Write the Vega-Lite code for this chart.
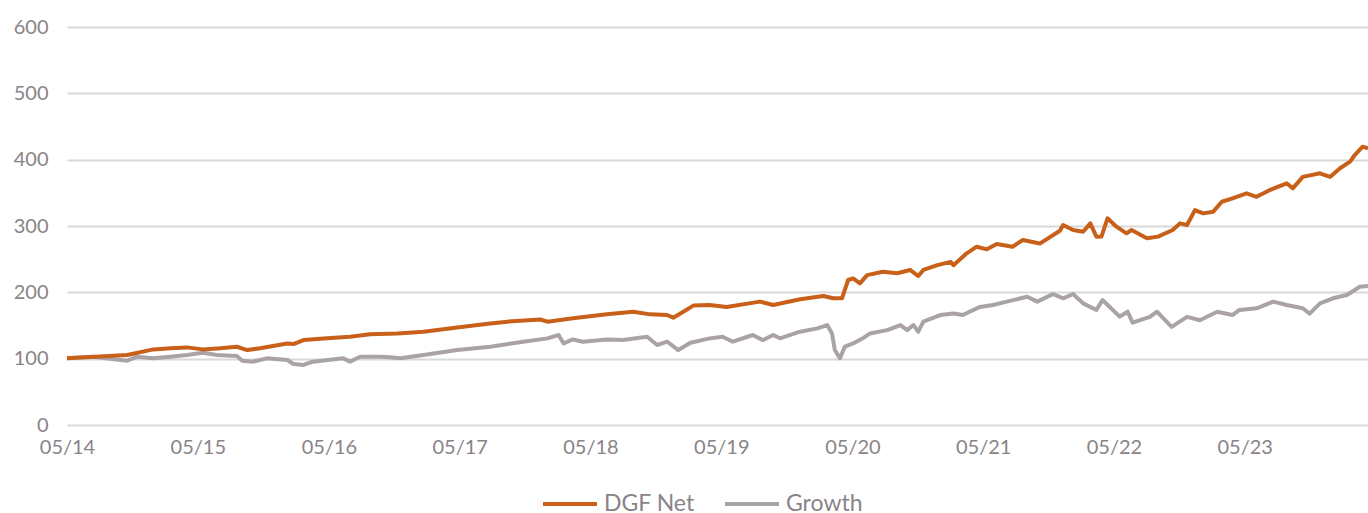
{
  "$schema": "https://vega.github.io/schema/vega-lite/v6.json",
  "width": 1301,
  "height": 398,
  "autosize": {"type": "none"},
  "padding": {"left": 67, "top": 27, "right": 0, "bottom": 88},
  "background": "white",
  "config": {
    "view": {"stroke": null},
    "font": "Lato",
    "axis": {"labelFont": "Lato", "labelColor": "#898388", "labelFontSize": 20, "ticks": false, "domain": false, "title": null},
    "legend": {"labelFont": "Lato", "labelColor": "#898388", "labelFontSize": 23}
  },
  "datasets": {
    "dgf": [
      {"date": "2014-05-01", "v": 100.5},
      {"date": "2014-10-16", "v": 105.5},
      {"date": "2014-12-28", "v": 114},
      {"date": "2015-02-14", "v": 115.6},
      {"date": "2015-04-01", "v": 117},
      {"date": "2015-05-15", "v": 114},
      {"date": "2015-07-02", "v": 115.6},
      {"date": "2015-08-18", "v": 118},
      {"date": "2015-09-16", "v": 113},
      {"date": "2015-10-22", "v": 115.6},
      {"date": "2016-01-06", "v": 123},
      {"date": "2016-01-23", "v": 122},
      {"date": "2016-02-20", "v": 128},
      {"date": "2016-04-26", "v": 130.7},
      {"date": "2016-06-29", "v": 133},
      {"date": "2016-08-24", "v": 136.7},
      {"date": "2016-11-08", "v": 138},
      {"date": "2017-01-20", "v": 140.7},
      {"date": "2017-04-24", "v": 147},
      {"date": "2017-07-25", "v": 153},
      {"date": "2017-09-11", "v": 155.8},
      {"date": "2017-12-12", "v": 159},
      {"date": "2018-01-01", "v": 155.8},
      {"date": "2018-03-13", "v": 160.8},
      {"date": "2018-06-16", "v": 166.8},
      {"date": "2018-08-28", "v": 170.8},
      {"date": "2018-10-15", "v": 166.8},
      {"date": "2018-12-01", "v": 165.8},
      {"date": "2018-12-18", "v": 161.8},
      {"date": "2019-01-15", "v": 170.8},
      {"date": "2019-02-12", "v": 180},
      {"date": "2019-03-30", "v": 181},
      {"date": "2019-05-16", "v": 178},
      {"date": "2019-08-17", "v": 186},
      {"date": "2019-09-23", "v": 181},
      {"date": "2019-12-07", "v": 189.5},
      {"date": "2020-02-10", "v": 194.5},
      {"date": "2020-03-08", "v": 191},
      {"date": "2020-04-02", "v": 191},
      {"date": "2020-04-19", "v": 218.6},
      {"date": "2020-05-03", "v": 221},
      {"date": "2020-05-22", "v": 213.6},
      {"date": "2020-06-11", "v": 226},
      {"date": "2020-07-25", "v": 231},
      {"date": "2020-09-03", "v": 228.7},
      {"date": "2020-10-09", "v": 233.7},
      {"date": "2020-11-01", "v": 224.6},
      {"date": "2020-11-15", "v": 233.7},
      {"date": "2020-12-24", "v": 241},
      {"date": "2021-01-30", "v": 246},
      {"date": "2021-02-07", "v": 241},
      {"date": "2021-03-16", "v": 258.8},
      {"date": "2021-04-13", "v": 268.8},
      {"date": "2021-05-11", "v": 264.8},
      {"date": "2021-06-08", "v": 272.8},
      {"date": "2021-07-22", "v": 268.8},
      {"date": "2021-08-20", "v": 278.9},
      {"date": "2021-10-06", "v": 273.5},
      {"date": "2021-12-01", "v": 292.9},
      {"date": "2021-12-10", "v": 301.5},
      {"date": "2022-01-07", "v": 294},
      {"date": "2022-02-04", "v": 291.4},
      {"date": "2022-02-24", "v": 304},
      {"date": "2022-03-13", "v": 283.9},
      {"date": "2022-03-27", "v": 284},
      {"date": "2022-04-13", "v": 311.6},
      {"date": "2022-05-08", "v": 299},
      {"date": "2022-06-05", "v": 289},
      {"date": "2022-06-19", "v": 294},
      {"date": "2022-08-01", "v": 281.4},
      {"date": "2022-09-01", "v": 284},
      {"date": "2022-10-12", "v": 294},
      {"date": "2022-11-01", "v": 304},
      {"date": "2022-11-21", "v": 301.5},
      {"date": "2022-12-13", "v": 324},
      {"date": "2023-01-05", "v": 319},
      {"date": "2023-02-02", "v": 321.6},
      {"date": "2023-02-26", "v": 336.6},
      {"date": "2023-03-28", "v": 341.7},
      {"date": "2023-05-06", "v": 349.3},
      {"date": "2023-06-03", "v": 344},
      {"date": "2023-07-09", "v": 354},
      {"date": "2023-08-26", "v": 364.4},
      {"date": "2023-09-12", "v": 356.8},
      {"date": "2023-10-10", "v": 374},
      {"date": "2023-11-27", "v": 379.4},
      {"date": "2023-12-25", "v": 374},
      {"date": "2024-01-22", "v": 387},
      {"date": "2024-02-19", "v": 397},
      {"date": "2024-03-03", "v": 407},
      {"date": "2024-03-25", "v": 419.6},
      {"date": "2024-04-09", "v": 417}
    ],
    "growth": [
      {"date": "2014-05-01", "v": 100.5},
      {"date": "2014-07-12", "v": 103},
      {"date": "2014-10-16", "v": 97},
      {"date": "2014-11-13", "v": 103},
      {"date": "2014-12-28", "v": 100.5},
      {"date": "2015-02-14", "v": 103},
      {"date": "2015-04-01", "v": 105.5},
      {"date": "2015-05-15", "v": 109},
      {"date": "2015-06-23", "v": 105.5},
      {"date": "2015-08-18", "v": 104},
      {"date": "2015-09-02", "v": 97},
      {"date": "2015-10-02", "v": 95.5},
      {"date": "2015-11-10", "v": 100.5},
      {"date": "2016-01-06", "v": 98},
      {"date": "2016-01-23", "v": 92},
      {"date": "2016-02-20", "v": 90.5},
      {"date": "2016-03-17", "v": 95.5},
      {"date": "2016-06-10", "v": 100.5},
      {"date": "2016-06-29", "v": 95.5},
      {"date": "2016-07-27", "v": 103},
      {"date": "2016-09-21", "v": 103},
      {"date": "2016-10-19", "v": 102},
      {"date": "2016-11-16", "v": 100.5},
      {"date": "2017-01-20", "v": 105.5},
      {"date": "2017-04-24", "v": 113},
      {"date": "2017-07-25", "v": 118},
      {"date": "2017-10-25", "v": 125.6},
      {"date": "2018-01-01", "v": 130.6},
      {"date": "2018-02-01", "v": 135.7},
      {"date": "2018-02-15", "v": 123},
      {"date": "2018-03-13", "v": 129},
      {"date": "2018-04-10", "v": 125.6},
      {"date": "2018-06-16", "v": 129},
      {"date": "2018-07-30", "v": 128},
      {"date": "2018-10-06", "v": 133},
      {"date": "2018-11-03", "v": 120.6},
      {"date": "2018-12-01", "v": 125.6},
      {"date": "2019-01-01", "v": 113},
      {"date": "2019-02-04", "v": 124},
      {"date": "2019-03-30", "v": 130.6},
      {"date": "2019-05-05", "v": 133},
      {"date": "2019-06-02", "v": 125.6},
      {"date": "2019-07-28", "v": 135.7},
      {"date": "2019-08-25", "v": 128},
      {"date": "2019-09-23", "v": 135.7},
      {"date": "2019-10-12", "v": 130.7},
      {"date": "2019-12-07", "v": 140.7},
      {"date": "2020-01-24", "v": 145.7},
      {"date": "2020-02-21", "v": 150.7},
      {"date": "2020-03-05", "v": 138},
      {"date": "2020-03-13", "v": 113},
      {"date": "2020-03-27", "v": 100.5},
      {"date": "2020-04-10", "v": 118},
      {"date": "2020-05-03", "v": 123},
      {"date": "2020-05-30", "v": 130.7},
      {"date": "2020-06-19", "v": 138},
      {"date": "2020-08-06", "v": 143},
      {"date": "2020-09-12", "v": 150.7},
      {"date": "2020-10-01", "v": 143},
      {"date": "2020-10-18", "v": 150.7},
      {"date": "2020-11-01", "v": 140.7},
      {"date": "2020-11-15", "v": 155.8},
      {"date": "2021-01-01", "v": 165.8},
      {"date": "2021-02-07", "v": 168},
      {"date": "2021-03-05", "v": 165.8},
      {"date": "2021-04-22", "v": 178},
      {"date": "2021-05-28", "v": 181},
      {"date": "2021-07-06", "v": 186},
      {"date": "2021-09-01", "v": 193.4},
      {"date": "2021-09-29", "v": 186},
      {"date": "2021-11-12", "v": 197.5},
      {"date": "2021-12-10", "v": 191},
      {"date": "2022-01-07", "v": 197.5},
      {"date": "2022-02-04", "v": 183.4},
      {"date": "2022-03-13", "v": 173.4},
      {"date": "2022-03-30", "v": 188.4},
      {"date": "2022-05-17", "v": 163.3},
      {"date": "2022-06-08", "v": 170.8},
      {"date": "2022-06-22", "v": 154.3},
      {"date": "2022-08-09", "v": 163},
      {"date": "2022-08-29", "v": 170.8},
      {"date": "2022-10-09", "v": 148},
      {"date": "2022-11-21", "v": 163},
      {"date": "2022-12-27", "v": 158},
      {"date": "2023-02-13", "v": 170.8},
      {"date": "2023-03-28", "v": 165.8},
      {"date": "2023-04-16", "v": 173.4},
      {"date": "2023-06-03", "v": 175.9},
      {"date": "2023-07-20", "v": 186},
      {"date": "2023-08-26", "v": 181},
      {"date": "2023-10-10", "v": 176},
      {"date": "2023-10-29", "v": 168},
      {"date": "2023-11-27", "v": 183.4},
      {"date": "2024-01-02", "v": 191},
      {"date": "2024-02-10", "v": 196},
      {"date": "2024-03-17", "v": 208.5},
      {"date": "2024-04-09", "v": 209.5}
    ]
  },
  "layer": [
    {
      "data": {"name": "growth"},
      "transform": [{"calculate": "'Growth'", "as": "series"}],
      "mark": {"type": "line", "strokeWidth": 4, "strokeJoin": "round", "strokeCap": "butt"},
      "encoding": {
        "x": {"field": "date", "type": "temporal",
              "scale": {"domain": ["2014-05-01", "2024-04-09"]},
              "axis": {"values": ["2014-05-01","2015-05-01","2016-05-01","2017-05-01","2018-05-01","2019-05-01","2020-05-01","2021-05-01","2022-05-01","2023-05-01"],
                       "format": "%m/%y", "grid": false, "labelPadding": 12, "labelFlush": false}},
        "y": {"field": "v", "type": "quantitative",
              "scale": {"domain": [0, 600]},
              "axis": {"values": [0,100,200,300,400,500,600], "gridColor": "#D9D9D9", "gridWidth": 2, "labelPadding": 19}},
        "color": {"field": "series", "type": "nominal",
                  "scale": {"domain": ["DGF Net", "Growth"], "range": ["#C8601A", "#A9A3A7"]},
                  "legend": {"title": null, "orient": "none", "direction": "horizontal", "legendX": 491, "legendY": 465,
                             "symbolType": "M-2.7,0H2.7", "symbolSize": 400, "symbolStrokeWidth": 4, "columnPadding": 22, "labelOffset": 22}}
      }
    },
    {
      "data": {"name": "dgf"},
      "transform": [{"calculate": "'DGF Net'", "as": "series"}],
      "mark": {"type": "line", "strokeWidth": 4, "strokeJoin": "round", "strokeCap": "butt"},
      "encoding": {
        "x": {"field": "date", "type": "temporal"},
        "y": {"field": "v", "type": "quantitative"},
        "color": {"field": "series", "type": "nominal"}
      }
    }
  ]
}
